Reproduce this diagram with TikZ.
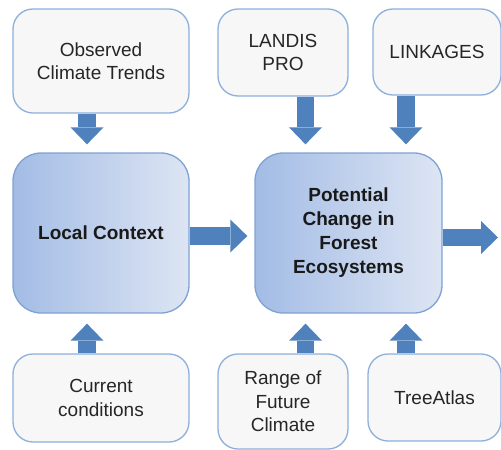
\documentclass[tikz,border=0pt]{standalone}
\usepackage{fontspec}
\setmainfont{Liberation Sans}
\usetikzlibrary{arrows.meta}

\definecolor{boxline}{HTML}{8DB0DC}
\definecolor{boxfill}{HTML}{F7F7F7}
\definecolor{bigleft}{HTML}{A3BCE5}
\definecolor{bigright}{HTML}{DDE5F3}
\definecolor{bigline}{HTML}{7FA2D3}
\definecolor{flowblue}{HTML}{4F81BD}

\tikzset{
  inbox/.style={draw=boxline, line width=1.3pt, fill=boxfill, rounded corners=20pt,
    align=center, inner sep=0pt, text=black!85, font=\fontsize{19}{23.5}\selectfont},
  bigbox/.style={draw=bigline, line width=1.3pt, left color=bigleft, right color=bigright,
    rounded corners=28pt, align=center, inner sep=0pt, text=black!90,
    font=\bfseries\fontsize{19}{24}\selectfont,
    minimum height=160pt},
  flow/.style={draw=flowblue, line width=17.5pt,
    -{Triangle[width=33pt,length=17pt,line width=0pt]}}
}

\begin{document}
\begin{tikzpicture}[x=1pt,y=-1pt]
  \useasboundingbox (0,0) rectangle (501,450);
  % inputs on top
  \node[inbox, minimum width=176pt, minimum height=104pt] (obs) at (101,61) {Observed\\Climate Trends};
  \node[inbox, minimum width=130pt, minimum height=87pt] (landis) at (283,52.5) {LANDIS\\PRO};
  \node[inbox, minimum width=128pt, minimum height=86pt] (link) at (437,52) {LINKAGES};
  % the two main boxes
  \node[bigbox, minimum width=176pt] (local) at (101,233) {Local Context};
  \node[bigbox, minimum width=187pt] (pot) at (348.5,233) {Potential\\Change in\\Forest\\Ecosystems};
  % inputs below
  \node[inbox, minimum width=176pt, minimum height=88pt] (cur) at (101,398) {Current\\conditions};
  \node[inbox, minimum width=130pt, minimum height=95pt] (range) at (283,401.5) {Range of\\Future\\Climate};
  \node[inbox, minimum width=133pt, minimum height=87pt] (tree) at (434.5,397.5) {TreeAtlas};
  \coordinate (out) at (498,237.5);

  \draw[flow] ([xshift=-14pt]obs.south) -- ([xshift=-14pt,yshift=8pt]local.north);
  \draw[flow] ([xshift=22.5pt]landis.south) -- ([xshift=-43pt,yshift=8pt]pot.north);
  \draw[flow] ([xshift=-31pt]link.south) -- ([xshift=57.5pt,yshift=8pt]pot.north);
  \draw[flow] ([xshift=-14pt]cur.north) -- ([xshift=-14pt,yshift=-10pt]local.south);
  \draw[flow] ([xshift=22.5pt]range.north) -- ([xshift=-43pt,yshift=-10pt]pot.south);
  \draw[flow] ([xshift=-28.5pt]tree.north) -- ([xshift=57.5pt,yshift=-10pt]pot.south);
  \draw[flow] ([yshift=-3pt]local.east) -- ([xshift=-7pt,yshift=-3pt]pot.west);
  \draw[flow] ([yshift=-4.5pt]pot.east) -- (out);
\end{tikzpicture}
\end{document}
